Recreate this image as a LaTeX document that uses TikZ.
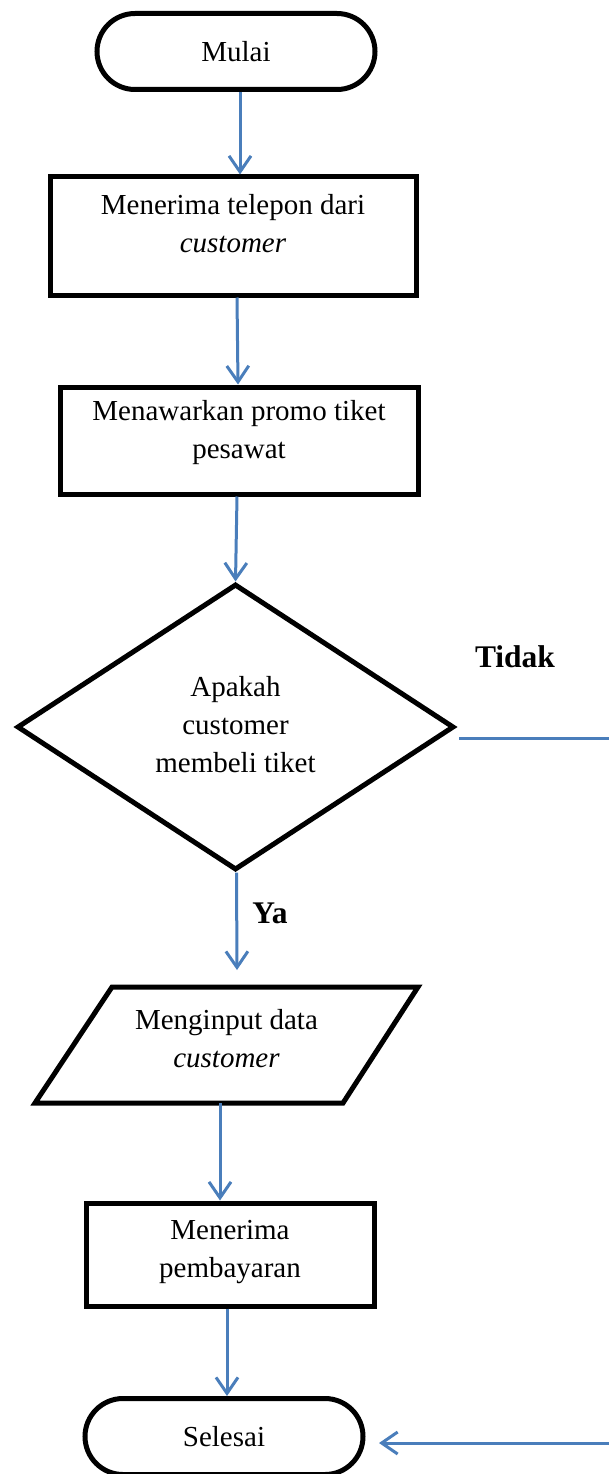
\documentclass[tikz,border=0pt]{standalone}
\usepackage{fontspec}
\setmainfont{Liberation Serif}
\usetikzlibrary{arrows.meta,shapes.geometric}
\definecolor{flowblue}{HTML}{4A7EBB}
\begin{document}
\begin{tikzpicture}[x=1pt,y=-1pt,
  shapeline/.style={draw=black,line width=5pt},
  txt/.style={font=\fontsize{29}{38}\selectfont,align=center,inner sep=0pt},
  terminal/.style={shapeline,rectangle,rounded corners=38pt,minimum width=278pt,minimum height=76pt,inner sep=0pt,txt},
  procbox/.style={shapeline,rectangle,inner sep=0pt},
  flow/.style={draw=flowblue,line width=3pt,-{Straight Barb[length=16pt,width=22pt]}},
  plainflow/.style={draw=flowblue,line width=3pt},
  lbl/.style={font=\fontsize{31.5}{38}\selectfont\bfseries,inner sep=0pt}
]
\useasboundingbox (0,0) rectangle (609,1474);

\node[terminal] (start) at (236,51.5) {Mulai};

\node[procbox,minimum width=366pt,minimum height=118pt,
  label={[txt,yshift=12pt]center:{Menerima telepon dari\\\textit{customer}}}] (box1) at (233,236) {};

\node[procbox,minimum width=358pt,minimum height=107pt,
  label={[txt,yshift=8pt]center:{Menawarkan promo tiket\\pesawat}}] (box2) at (239,440.5) {};

\node[shapeline,diamond,inner sep=0pt,minimum width=437pt,minimum height=286pt,
  label={[txt,yshift=2pt]center:{Apakah\\customer\\membeli tiket}}] (dia) at (235.5,727) {};

\node[lbl] (tidak) at (515,657) {Tidak};
\node[lbl] (ya) at (270,913) {Ya};

\node[inner sep=0pt,minimum width=300pt,minimum height=116pt,
  label={[txt,yshift=6pt]center:{Menginput data\\\textit{customer}}}] (para) at (226.5,1045) {};
\draw[shapeline] (35,1103) -- (112,987) -- (418,987) -- (343,1103) -- cycle;

\node[procbox,minimum width=288pt,minimum height=103pt,
  label={[txt,yshift=2pt]center:{Menerima\\pembayaran}}] (box3) at (230,1254.5) {};

\node[terminal] (stop) at (224,1436.5) {Selesai};

\coordinate (yaend) at (237,970);
\coordinate (tidakstart) at (459,738);
\coordinate (edgeA) at (609,738);
\coordinate (edgeB) at (609,1443);
\coordinate (stopin) at (379,1443);

\draw[flow] ([xshift=4pt]start.south) -- ([xshift=7pt]box1.north);
\draw[flow] ([xshift=4pt]box1.south) -- ([xshift=-1pt]box2.north);
\draw[flow] ([xshift=-2pt]box2.south) -- (dia.north);
\draw[flow] ([xshift=1pt]dia.south) -- (yaend);
\draw[flow] ([xshift=-6.5pt]para.south) -- ([xshift=-10pt]box3.north);
\draw[flow] ([xshift=-3pt]box3.south) -- ([xshift=3pt]stop.north);
\draw[plainflow] (tidakstart) -- (edgeA);
\draw[flow] (edgeB) -- (stopin);
\end{tikzpicture}
\end{document}
